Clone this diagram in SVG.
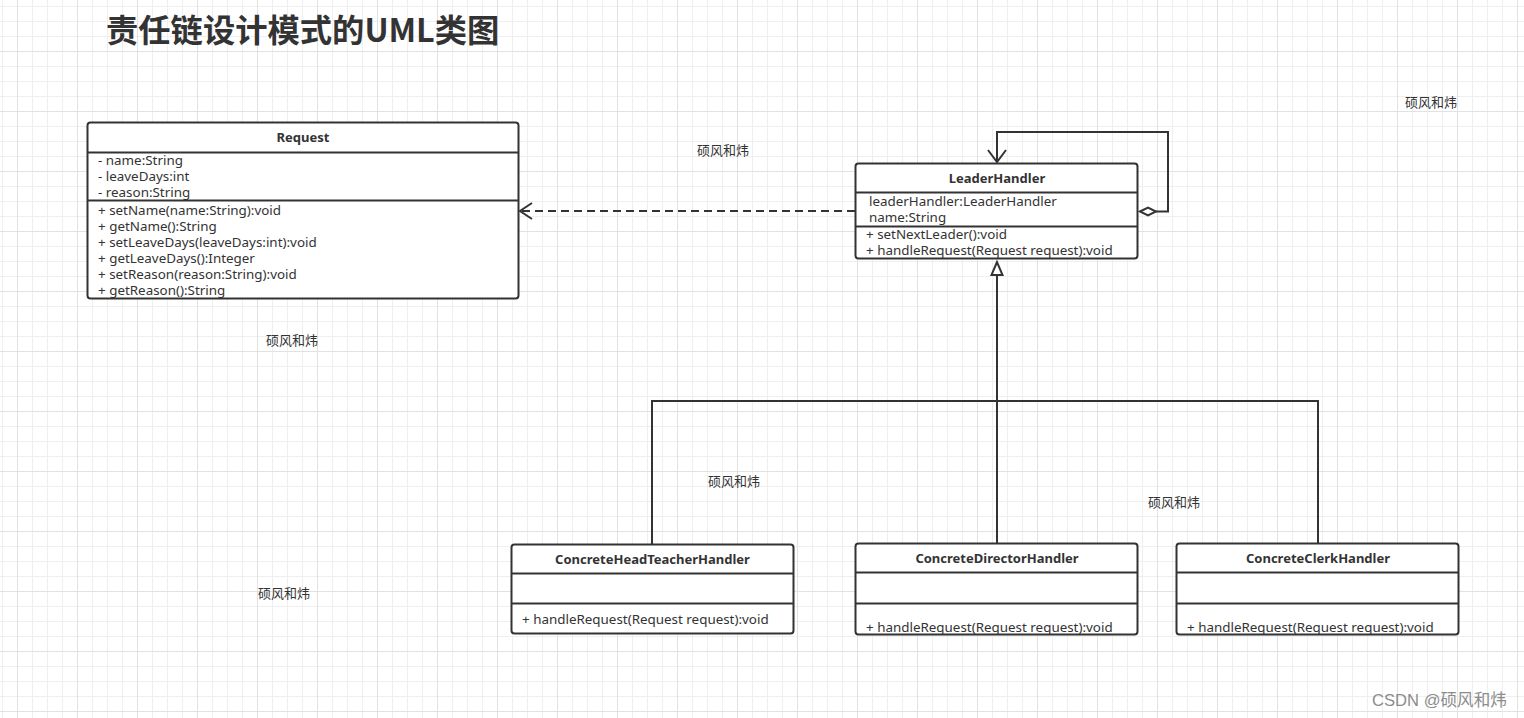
<svg xmlns="http://www.w3.org/2000/svg" width="1524" height="718" viewBox="0 0 1524 718">
<defs>
<pattern id="grid" patternUnits="userSpaceOnUse" x="2" y="6" width="60" height="60">
<path d="M0.5 0V60M30.5 0V60M45.5 0V60M0 0.5H60M0 15.5H60M0 30.5H60" stroke="#efefef" stroke-width="1" fill="none"/>
<path d="M15.5 0V60M0 45.5H60" stroke="#e2e2e2" stroke-width="1" fill="none"/>
</pattern>
<style>
.box{fill:#fff;stroke:#333;stroke-width:2}
.sep{stroke:#333;stroke-width:2}
.t{font-family:"Noto Sans","Liberation Sans",Arial,sans-serif;font-size:13.4px;fill:#333}
.h{font-family:"Noto Sans","Liberation Sans",Arial,sans-serif;font-size:13px;font-weight:bold;fill:#333;text-anchor:middle}
.wm{font-family:"Noto Sans CJK SC",sans-serif;font-size:13px;fill:#333}
.ln{fill:none;stroke:#333;stroke-width:2}
</style>
</defs>
<rect width="1524" height="718" fill="#fff"/>
<rect width="1524" height="718" fill="url(#grid)"/>

<text x="106" y="42" style="font-family:'Noto Sans CJK SC','Liberation Sans',sans-serif;font-size:32.3px;font-weight:bold;fill:#333">责任链设计模式的UML类图</text>

<g id="connectors">
<path class="ln" d="M855 211H521" stroke-dasharray="8 5"/>
<path class="ln" d="M532 203L520 211L532 219"/>
<path class="ln" d="M1156 211.5H1168V132H997V162"/>
<path class="ln" d="M988 150L997 162L1006 150"/>
<polygon points="1140,211.5 1148,207.5 1156,211.5 1148,215.5" fill="#fff" stroke="#333" stroke-width="2"/>
<path class="ln" d="M997 275V543M652 544V401H1318V543"/>
<polygon points="997,262 991.5,275 1002.5,275" fill="#fff" stroke="#333" stroke-width="2"/>
</g>

<g id="request">
<rect class="box" x="87.5" y="122.5" width="431" height="176" rx="3"/>
<line class="sep" x1="87.5" y1="152.5" x2="518.5" y2="152.5"/>
<line class="sep" x1="87.5" y1="200.5" x2="518.5" y2="200.5"/>
<text class="h" x="303" y="142">Request</text>
<text class="t" x="98" y="165">- name:String</text>
<text class="t" x="98" y="181">- leaveDays:int</text>
<text class="t" x="98" y="197">- reason:String</text>
<text class="t" x="98" y="215">+ setName(name:String):void</text>
<text class="t" x="98" y="231">+ getName():String</text>
<text class="t" x="98" y="247">+ setLeaveDays(leaveDays:int):void</text>
<text class="t" x="98" y="263">+ getLeaveDays():Integer</text>
<text class="t" x="98" y="279">+ setReason(reason:String):void</text>
<text class="t" x="98" y="295">+ getReason():String</text>
</g>

<g id="leaderHandler">
<rect class="box" x="855.5" y="163.5" width="282" height="95" rx="3"/>
<line class="sep" x1="855.5" y1="192.5" x2="1137.5" y2="192.5"/>
<line class="sep" x1="855.5" y1="226.5" x2="1137.5" y2="226.5"/>
<text class="h" x="997" y="183">LeaderHandler</text>
<text class="t" x="869" y="206">leaderHandler:LeaderHandler</text>
<text class="t" x="869" y="222">name:String</text>
<text class="t" x="866" y="239">+ setNextLeader():void</text>
<text class="t" x="866" y="255">+ handleRequest(Request request):void</text>
</g>

<g id="headTeacher">
<rect class="box" x="511.5" y="544.5" width="282" height="89" rx="3"/>
<line class="sep" x1="511.5" y1="573.5" x2="793.5" y2="573.5"/>
<line class="sep" x1="511.5" y1="603.5" x2="793.5" y2="603.5"/>
<text class="h" x="652.5" y="564">ConcreteHeadTeacherHandler</text>
<text class="t" x="522" y="624">+ handleRequest(Request request):void</text>
</g>

<g id="director">
<rect class="box" x="855.5" y="543.5" width="282" height="91" rx="3"/>
<line class="sep" x1="855.5" y1="572.5" x2="1137.5" y2="572.5"/>
<line class="sep" x1="855.5" y1="603.5" x2="1137.5" y2="603.5"/>
<text class="h" x="997" y="563">ConcreteDirectorHandler</text>
<text class="t" x="866" y="632">+ handleRequest(Request request):void</text>
</g>

<g id="clerk">
<rect class="box" x="1176.5" y="543.5" width="282" height="91" rx="3"/>
<line class="sep" x1="1176.5" y1="572.5" x2="1458.5" y2="572.5"/>
<line class="sep" x1="1176.5" y1="603.5" x2="1458.5" y2="603.5"/>
<text class="h" x="1318" y="563">ConcreteClerkHandler</text>
<text class="t" x="1187" y="632">+ handleRequest(Request request):void</text>
</g>

<g id="watermarks">
<text class="wm" x="697" y="155">硕风和炜</text>
<text class="wm" x="1405" y="107">硕风和炜</text>
<text class="wm" x="266" y="345">硕风和炜</text>
<text class="wm" x="708" y="486">硕风和炜</text>
<text class="wm" x="1148" y="507">硕风和炜</text>
<text class="wm" x="258" y="598">硕风和炜</text>
<text x="1372" y="706" style="font-family:'Liberation Sans','Noto Sans CJK SC',sans-serif;font-size:16.6px;fill:#8c8c8c">CSDN @硕风和炜</text>
</g>
</svg>
